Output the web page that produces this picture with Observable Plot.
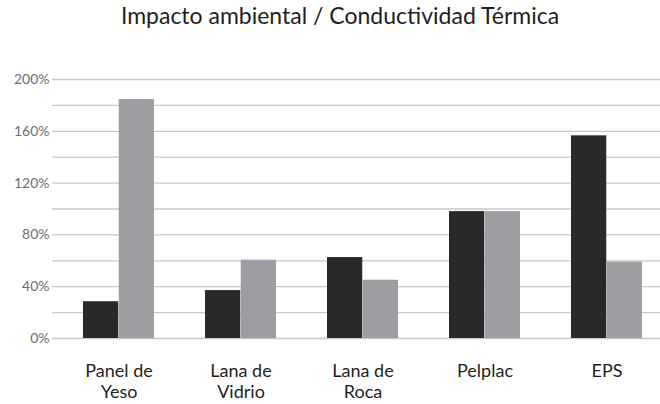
<!DOCTYPE html>
<html><head><meta charset="utf-8">
<script src="https://cdn.jsdelivr.net/npm/d3@7"></script>
<script src="https://cdn.jsdelivr.net/npm/@observablehq/plot@0.6"></script>
<style>
body{margin:0;background:#fff;}
#wrap{position:relative;width:660px;height:404px;overflow:hidden;background:#fff;}
#title{position:absolute;left:0;width:680px;top:4px;text-align:center;font-family:Lato,sans-serif;font-size:23px;line-height:1;color:#231f20;white-space:nowrap;}
#chart{position:absolute;left:0;top:0;}
</style></head><body>
<div id="wrap"><div id="chart"></div><div id="title">Impacto ambiental / Conductividad Térmica</div></div>
<script>
const categories = ["Panel de Yeso", "Lana de Vidrio", "Lana de Roca", "Pelplac", "EPS"];
const categoryLabels = ["Panel de\nYeso", "Lana de\nVidrio", "Lana de\nRoca", "Pelplac", "EPS"];
const impactoAmbiental = [28.4, 37, 62.5, 98, 156.5];
const conductividadTermica = [184.5, 60.5, 45, 98, 59];
const yTickValues = [0, 40, 80, 120, 160, 200];
const gridValues = [0, 20, 40, 60, 80, 100, 120, 140, 160, 180, 200];

const W = 660, H = 404, mL = 52;
const xRange = [52, 674];
const padIn = 0.417, padOut = 0.2455;
const bw = d3.scaleBand().domain(categories).range(xRange).paddingInner(padIn).paddingOuter(padOut).bandwidth();

const dark = categories.map((c, i) => ({category: c, value: impactoAmbiental[i]}));
const light = categories.map((c, i) => ({category: c, value: conductividadTermica[i]}));
const labs = categories.map((c, i) => ({category: c, label: categoryLabels[i]}));

const chart = Plot.plot({
  width: W, height: H,
  marginLeft: mL, marginRight: 0, marginTop: 79, marginBottom: 66,
  style: {fontFamily: "Lato, sans-serif", background: "transparent"},
  x: {type: "band", domain: categories, range: xRange, paddingInner: padIn, paddingOuter: padOut, axis: null},
  y: {domain: [0, 200], axis: null},
  marks: [
    Plot.ruleY(gridValues, {stroke: "#c8c8c8", strokeWidth: 1.3}),
    Plot.axisY(yTickValues, {tickSize: 0, tickPadding: 3, tickFormat: d => d + "%", fontSize: 14, fill: "#6d6e71", anchor: "left", label: null}),
    Plot.barY(dark, {x: "category", y: "value", fill: "#2b2829", insetRight: bw / 2}),
    Plot.barY(light, {x: "category", y: "value", fill: "#9d9ea2", insetLeft: bw / 2}),
    Plot.text(labs, {x: "category", text: "label", frameAnchor: "bottom", lineAnchor: "top", dy: 23, fontSize: 18, lineHeight: 1.2, fill: "#231f20"})
  ]
});
document.getElementById("chart").appendChild(chart);
</script>
</body></html>
